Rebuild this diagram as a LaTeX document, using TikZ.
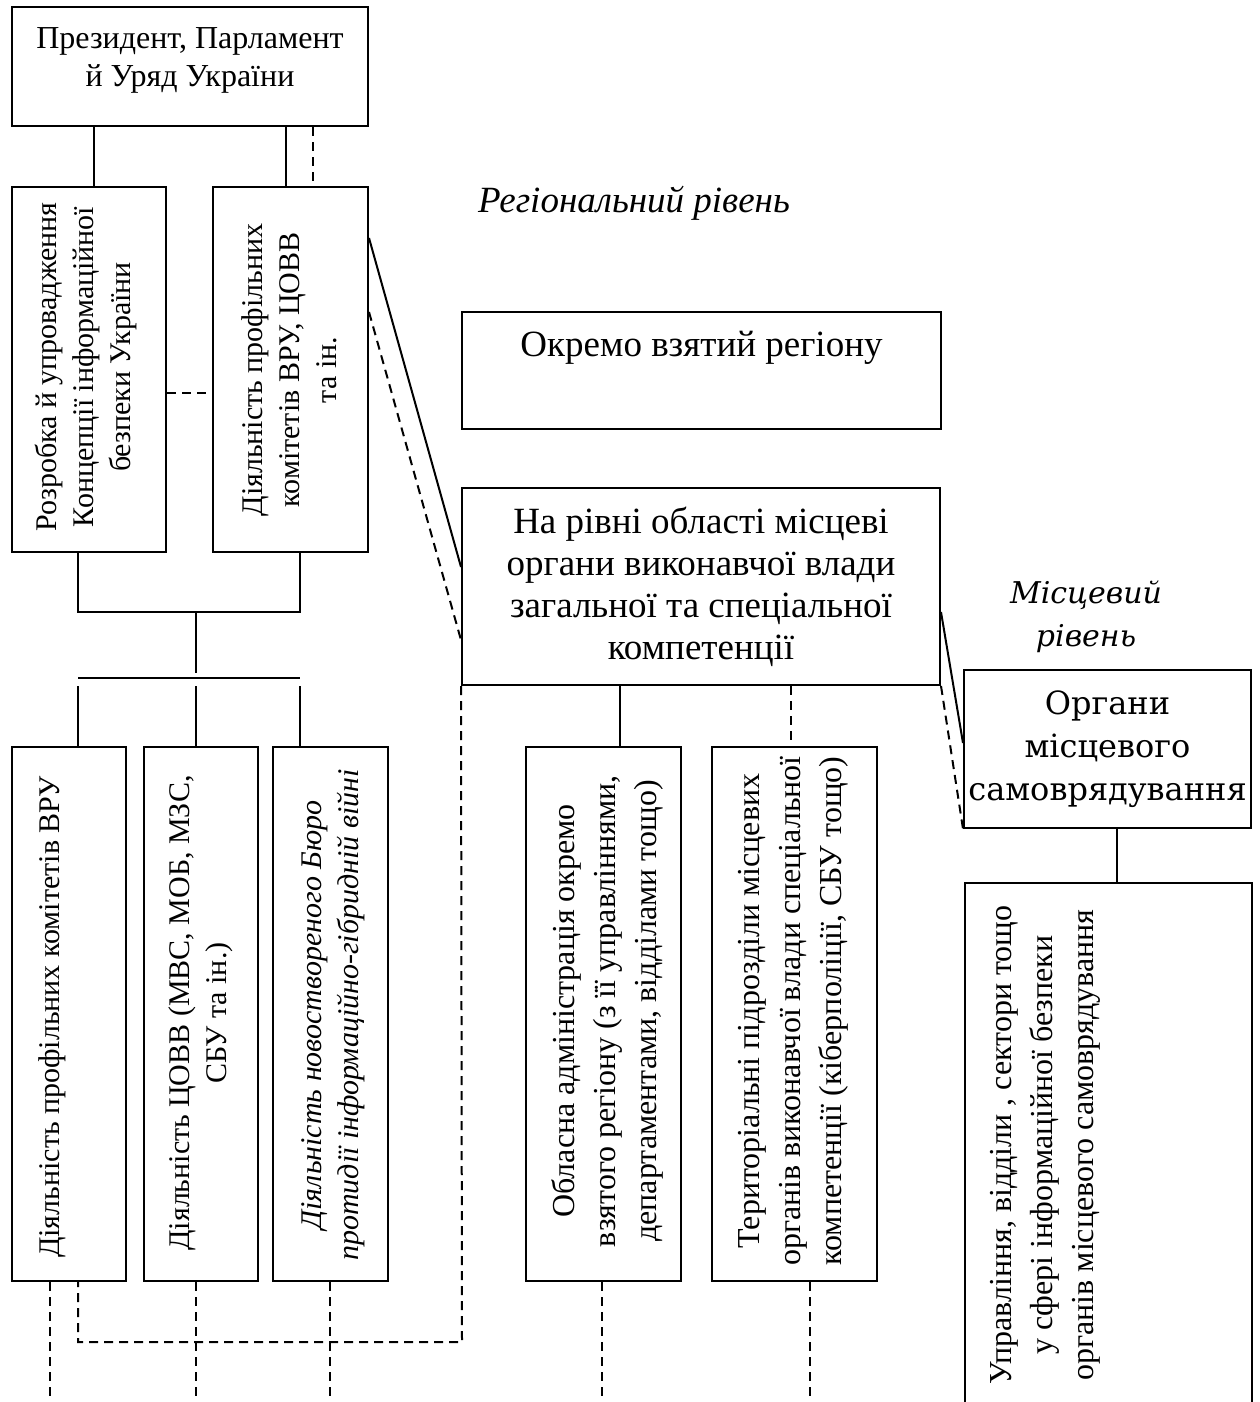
\documentclass[tikz,border=0pt]{standalone}
\usepackage{fontspec}
\setmainfont{Liberation Serif}
\newfontfamily\bookfont{DejaVu Serif}
\begin{document}
\begin{tikzpicture}[x=1pt,y=-1pt,
  box/.style={draw, line width=2pt, inner sep=0pt},
  conn/.style={line width=2pt},
  dconn/.style={line width=2pt, dash pattern=on 9pt off 6pt},
  rtxt/.style={inner sep=0pt, rotate=90, align=center, font=\fontsize{30}{37}\selectfont},
  rtxtb/.style={inner sep=0pt, rotate=90, align=center, font=\fontsize{32}{41}\selectfont},
  htxt/.style={inner sep=0pt, align=center}]
\useasboundingbox (0,0) rectangle (1259,1402);
\clip (0,0) rectangle (1259,1402);
\fill[white] (0,0) rectangle (1259,1402);

% ---- boxes ----
\node[box, minimum width=356pt, minimum height=119pt] (A) at (190,66.5) {};
\node[htxt, font=\fontsize{32}{38}\selectfont] (At) at (190,60) {Президент, Парламент\\й Уряд України};

\node[box, minimum width=154pt, minimum height=365pt] (B) at (89,369.5) {};
\node[rtxt] (Bt) at (86,367) {Розробка й упровадження\\Концепції інформаційної\\безпеки України};

\node[box, minimum width=155pt, minimum height=365pt] (C) at (290.5,369.5) {};
\node[rtxt] (Ct) at (289,370) {Діяльність профільних\\комітетів ВРУ, ЦОВВ\\та ін.};

\node[htxt, font=\fontsize{37}{42}\selectfont\itshape, anchor=base] (reg) at (634,212) {Регіональний рівень};

\node[box, minimum width=479pt, minimum height=117pt] (G) at (701.5,370.5) {};
\node[htxt, font=\fontsize{37}{42}\selectfont, anchor=base] (Gt) at (701.5,356) {Окремо взятий регіону};

\node[box, minimum width=478pt, minimum height=197pt, font=\fontsize{37}{42}\selectfont, align=center] (H) at (701,586.5)
  {На рівні області місцеві\\органи виконавчої влади\\загальної та спеціальної\\компетенції};

\node[htxt, font=\bookfont\itshape\fontsize{30}{43}\selectfont] (loc) at (1086,616.5) {Місцевий\\рівень};

\node[box, minimum width=287pt, minimum height=158pt, font=\bookfont\fontsize{32}{43}\selectfont, align=center] (K) at (1107.5,749)
  {Органи\\місцевого\\самоврядування};

\node[box, minimum width=114pt, minimum height=534pt] (D) at (69,1014) {};
\node[rtxt] (Dt) at (52,1017) {Діяльність профільних комітетів ВРУ};

\node[box, minimum width=114pt, minimum height=534pt] (E) at (201,1014) {};
\node[rtxt] (Et) at (201,1013) {Діяльність ЦОВВ (МВС, МОБ, МЗС,\\СБУ та ін.)};

\node[box, minimum width=115pt, minimum height=534pt] (F) at (330.5,1014) {};
\node[rtxt, font=\fontsize{30}{37}\selectfont\itshape] (Ft) at (333,1015) {Діяльність новоствореного Бюро\\протидії інформаційно-гібридній війні};

\node[box, minimum width=155pt, minimum height=534pt] (I) at (603.5,1014) {};
\node[rtxtb] (It) at (607,1011) {Обласна адміністрація окремо\\взятого регіону (з її управліннями,\\департаментами, відділами тощо)};

\node[box, minimum width=165pt, minimum height=534pt] (J) at (794.5,1014) {};
\node[rtxtb] (Jt) at (793,1011) {Територіальні підрозділи місцевих\\органів виконавчої влади спеціальної\\компетенції (кіберполіції, СБУ тощо)};

\node[box, minimum width=287pt, minimum height=600pt, anchor=north west] (L) at (964,882) {};
\node[rtxtb] (Lt) at (1045,1145) {Управління, відділи , сектори тощо\\у сфері інформаційної безпеки\\органів місцевого самоврядування};

% ---- helper coordinates ----
\coordinate (bar1l) at (78,612);
\coordinate (bar1m) at (196,612);
\coordinate (bar1r) at (300,612);
\coordinate (bar1d) at (196,673);
\coordinate (bar2l) at (78,678);
\coordinate (bar2r) at (300,678);
\coordinate (dcorner) at (78,1342);
\coordinate (hcorner) at (462,1342);
\coordinate (endD) at (50,1410);
\coordinate (endE) at (196,1410);
\coordinate (endF) at (330,1410);
\coordinate (endI) at (602,1410);
\coordinate (endJ) at (810,1410);

% ---- connectors ----
\draw[conn] (94,0 |- A.south) -- (94,0 |- B.north);
\draw[conn] (286,0 |- A.south) -- (286,0 |- C.north);
\draw[dconn] (313,0 |- A.south) -- (313,0 |- C.north);
\draw[dconn] (B.east |- 0,393) -- (C.west |- 0,393);

\draw[conn] (78,0 |- B.south) -- (bar1l) -- (bar1r) -- (300,0 |- C.south);
\draw[conn] (bar1m) -- (bar1d);
\draw[conn] (bar2l) -- (bar2r);
\draw[conn] (78,686) -- (78,0 |- D.north);
\draw[conn] (196,686) -- (196,0 |- E.north);
\draw[conn] (300,686) -- (300,0 |- F.north);

\draw[conn] (C.east |- 0,238) -- (H.west |- 0,567);
\draw[dconn] (C.east |- 0,312) -- (H.west |- 0,640);

\draw[dconn] (H.south west) -- (hcorner) -- (dcorner) -- (78,0 |- D.south);
\draw[dconn] (50,0 |- D.south) -- (endD);
\draw[dconn] (196,0 |- E.south) -- (endE);
\draw[dconn] (330,0 |- F.south) -- (endF);

\draw[conn] (620,0 |- H.south) -- (620,0 |- I.north);
\draw[dconn] (791,0 |- H.south) -- (791,0 |- J.north);
\draw[dconn] (602,0 |- I.south) -- (endI);
\draw[dconn] (810,0 |- J.south) -- (endJ);

\draw[conn] (H.east |- 0,612) -- (K.west |- 0,743);
\draw[dconn] (H.south east) -- (K.south west);
\draw[conn] (1117,0 |- K.south) -- (1117,0 |- L.north);
\end{tikzpicture}
\end{document}
